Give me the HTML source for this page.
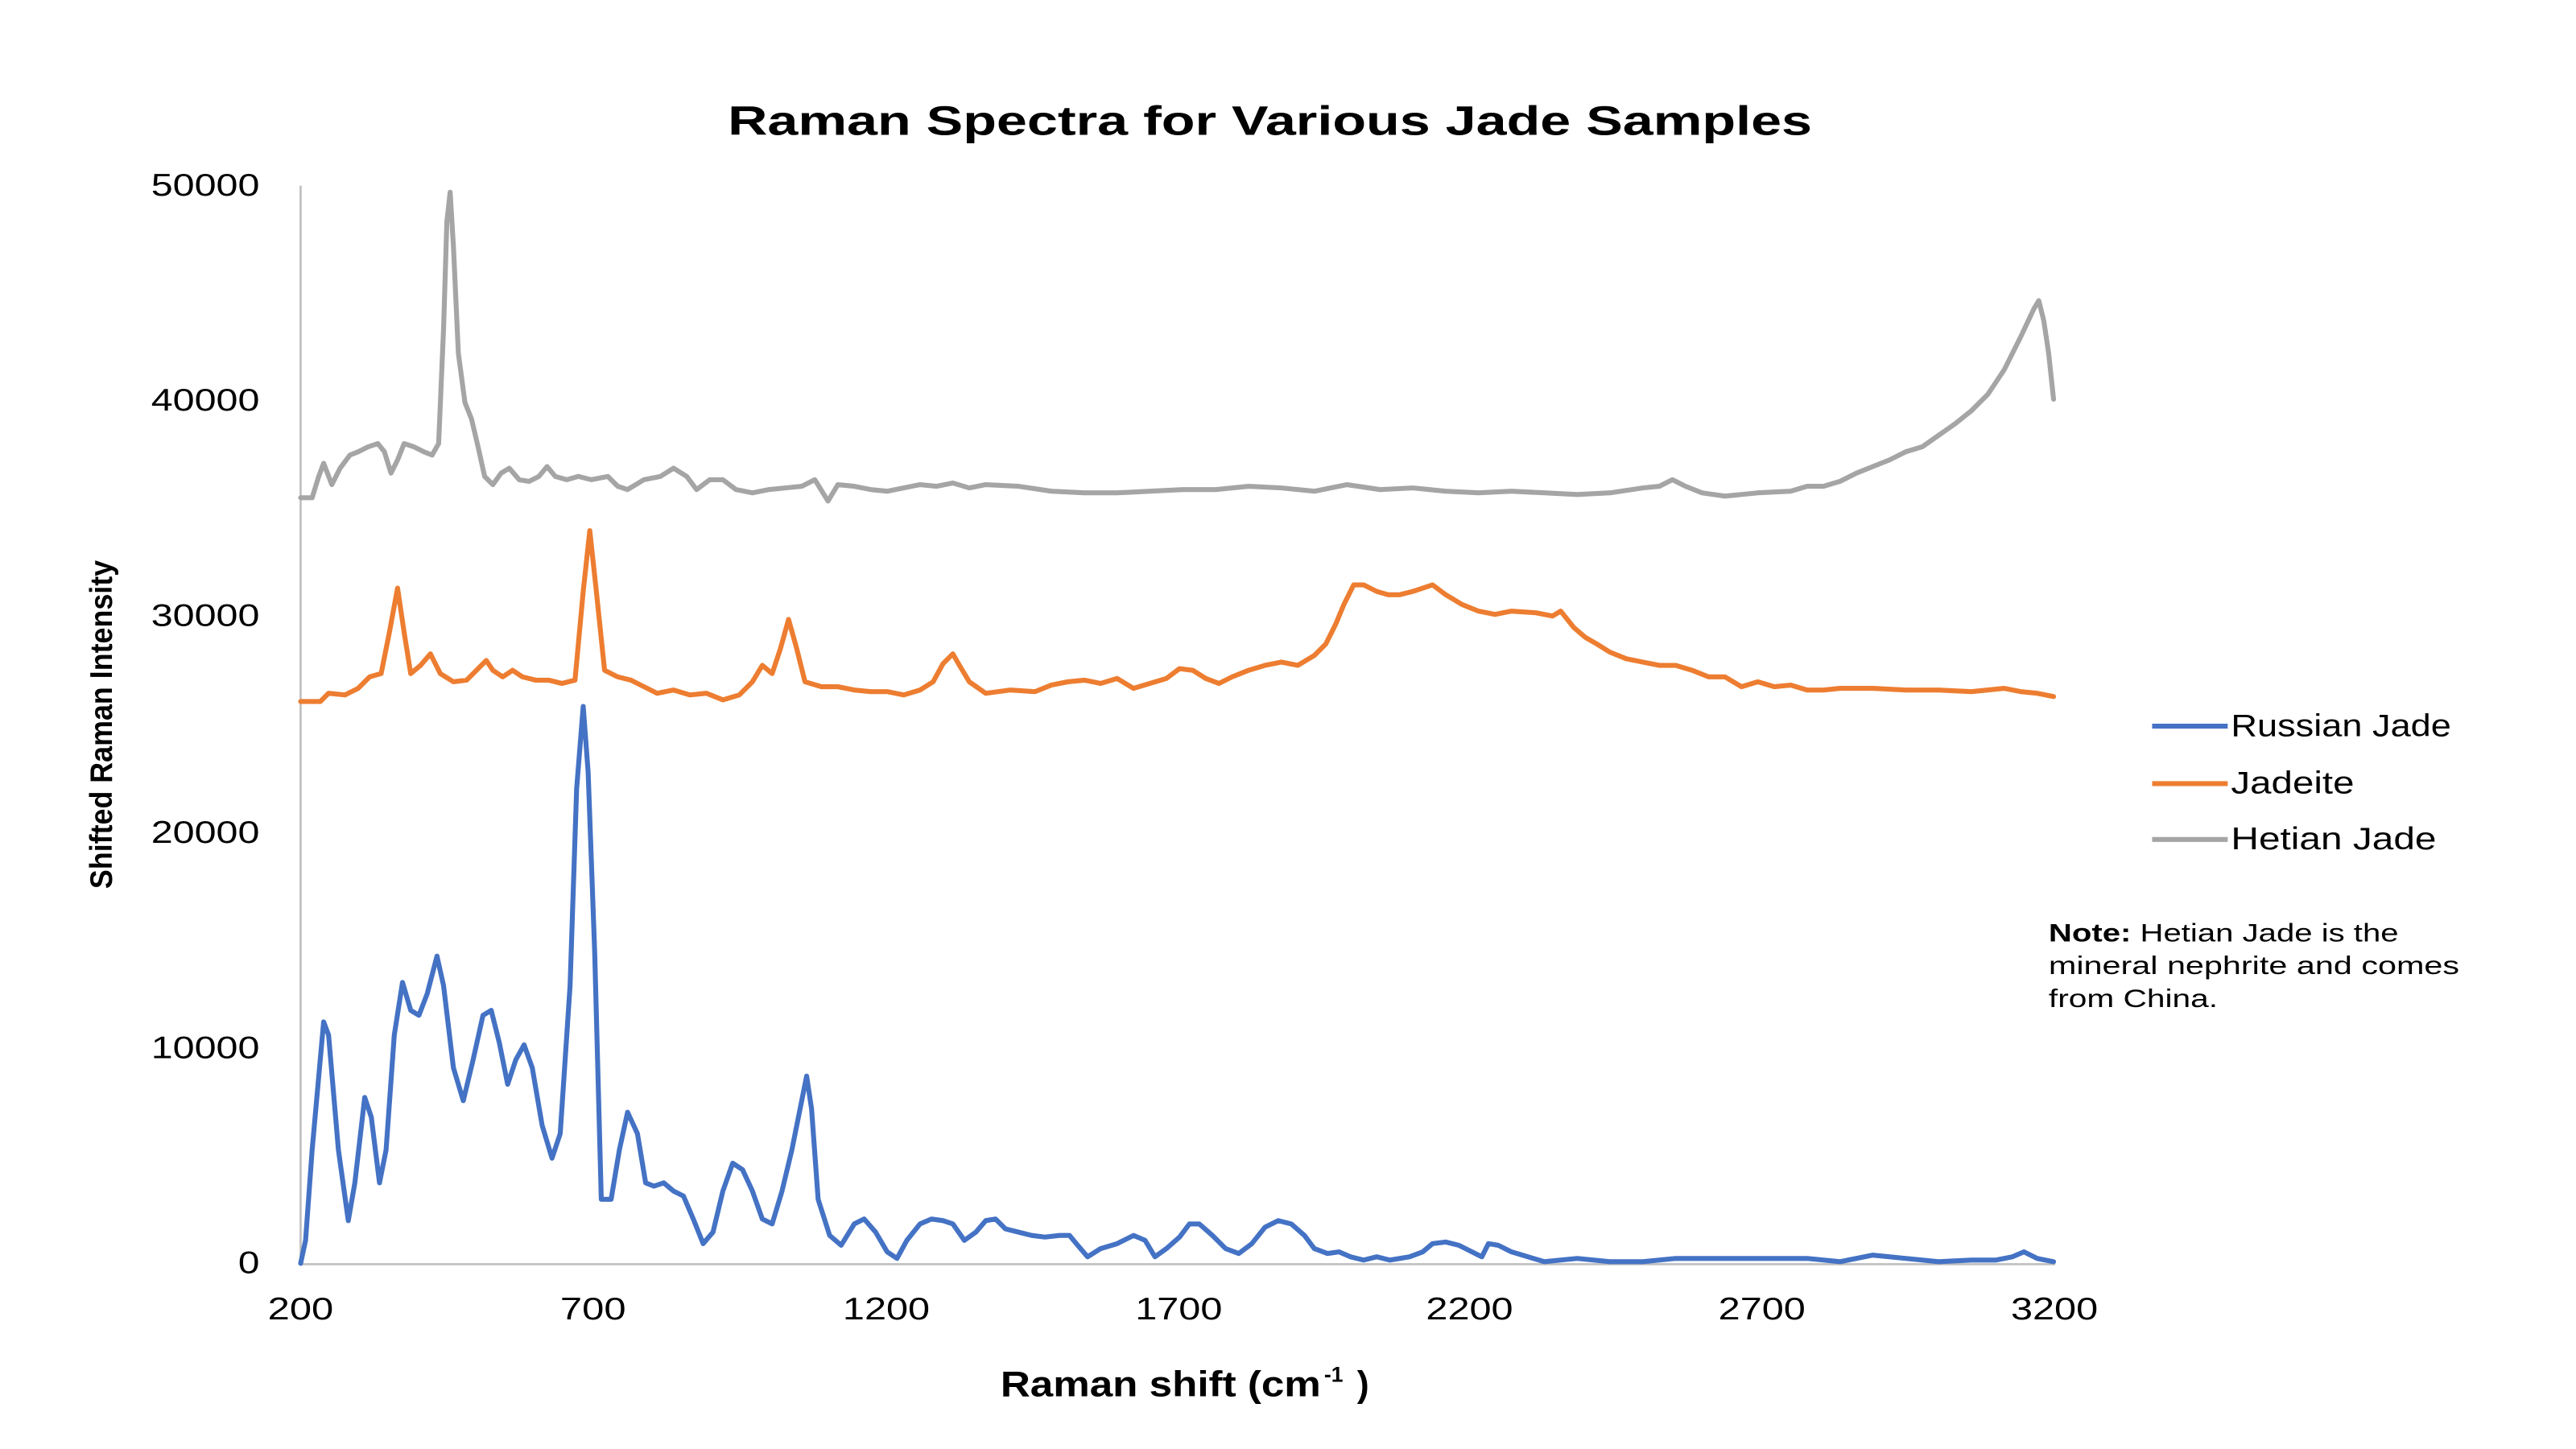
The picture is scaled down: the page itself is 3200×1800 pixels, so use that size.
<!DOCTYPE html>
<html><head><meta charset="utf-8"><style>
html,body{margin:0;padding:0;background:#fff;}
svg{display:block;}
text{font-family:"Liberation Sans",sans-serif;fill:#000;}
</style></head><body>
<svg width="3200" height="1800" viewBox="0 0 1568 882" preserveAspectRatio="none" xmlns="http://www.w3.org/2000/svg">
<rect width="1568" height="882" fill="#fff"/>
<text x="443" y="82" font-size="25" font-weight="bold" textLength="660" lengthAdjust="spacingAndGlyphs">Raman Spectra for Various Jade Samples</text>
<g font-size="19">
<text x="92" y="119" textLength="66" lengthAdjust="spacingAndGlyphs">50000</text>
<text x="92" y="250" textLength="66" lengthAdjust="spacingAndGlyphs">40000</text>
<text x="92" y="381" textLength="66" lengthAdjust="spacingAndGlyphs">30000</text>
<text x="92" y="513" textLength="66" lengthAdjust="spacingAndGlyphs">20000</text>
<text x="92" y="644" textLength="66" lengthAdjust="spacingAndGlyphs">10000</text>
<text x="145" y="775" textLength="13" lengthAdjust="spacingAndGlyphs">0</text>
</g>
<g font-size="19">
<text x="163" y="803" textLength="40" lengthAdjust="spacingAndGlyphs">200</text>
<text x="341" y="803" textLength="40" lengthAdjust="spacingAndGlyphs">700</text>
<text x="513" y="803" textLength="53" lengthAdjust="spacingAndGlyphs">1200</text>
<text x="691" y="803" textLength="53" lengthAdjust="spacingAndGlyphs">1700</text>
<text x="868" y="803" textLength="53" lengthAdjust="spacingAndGlyphs">2200</text>
<text x="1046" y="803" textLength="53" lengthAdjust="spacingAndGlyphs">2700</text>
<text x="1224" y="803" textLength="53" lengthAdjust="spacingAndGlyphs">3200</text>
</g>
<g font-weight="bold">
<text x="609" y="850" font-size="22" textLength="195" lengthAdjust="spacingAndGlyphs">Raman shift (cm</text>
<text x="806" y="841" font-size="13">-1</text>
<text x="826" y="850" font-size="22">)</text>
</g>
<text transform="translate(68,441) rotate(-90)" text-anchor="middle" font-size="19" font-weight="bold" textLength="200" lengthAdjust="spacingAndGlyphs">Shifted Raman Intensity</text>
<line x1="183" y1="113" x2="183" y2="769.5" stroke="#bfbfbf" stroke-width="1.3"/>
<line x1="183" y1="769.5" x2="1251" y2="769.5" stroke="#bfbfbf" stroke-width="1.3"/>
<g fill="none" stroke-width="3" stroke-linejoin="round" stroke-linecap="round">
<polyline stroke="#a5a5a5" points="183,303 190,303 194,290 197,282 202,295 207,285 213,277 218,275 224,272 230,270 234,275 238,288 242,280 246,270 252,272 258,275 263,277 267,270 270,200 272,135 274,117 276,150 279,215 283,245 287,255 291,272 295,290 300,295 305,288 310,285 316,292 322,293 328,290 333,284 338,290 345,292 352,290 360,292 370,290 376,296 382,298 392,292 402,290 410,285 418,290 424,298 432,292 440,292 448,298 458,300 468,298 478,297 488,296 496,292 504,305 510,295 520,296 530,298 540,299 550,297 560,295 570,296 580,294 590,297 600,295 620,296 640,299 660,300 680,300 700,299 720,298 740,298 760,296 780,297 800,299 820,295 840,298 860,297 880,299 900,300 920,299 940,300 960,301 980,300 1000,297 1010,296 1018,292 1026,296 1036,300 1050,302 1070,300 1090,299 1100,296 1110,296 1120,293 1130,288 1140,284 1150,280 1160,275 1170,272 1180,265 1190,258 1200,250 1210,240 1220,225 1230,205 1238,188 1241,183 1244,195 1247,215 1250,243"/>
<polyline stroke="#ed7d31" points="183,427 195,427 200,422 210,423 218,419 225,412 232,410 237,385 242,358 246,385 250,410 256,405 262,398 268,410 276,415 284,414 290,408 296,402 300,408 306,412 312,408 318,412 326,414 334,414 342,416 350,414 355,360 359,323 363,360 368,408 376,412 384,414 392,418 400,422 410,420 420,423 430,422 440,426 450,423 458,415 464,405 470,410 475,395 480,377 485,395 490,415 500,418 510,418 520,420 530,421 540,421 550,423 560,420 568,415 574,404 580,398 584,405 590,415 600,422 615,420 630,421 640,417 650,415 660,414 670,416 680,413 690,419 700,416 710,413 718,407 726,408 734,413 742,416 750,412 760,408 770,405 780,403 790,405 800,399 807,392 813,380 818,368 824,356 830,356 838,360 845,362 852,362 860,360 866,358 872,356 880,362 890,368 900,372 910,374 920,372 935,373 945,375 950,372 958,382 965,388 972,392 980,397 990,401 1000,403 1010,405 1020,405 1030,408 1040,412 1050,412 1060,418 1070,415 1080,418 1090,417 1100,420 1110,420 1120,419 1140,419 1160,420 1180,420 1200,421 1220,419 1230,421 1240,422 1250,424"/>
<polyline stroke="#4472c4" points="183,769 186,755 190,700 197,622 200,630 206,700 212,743 216,720 222,668 226,680 231,720 235,700 240,630 245,598 250,615 255,618 260,605 266,582 270,600 276,650 282,670 288,645 294,618 299,615 304,635 309,660 314,645 319,636 324,650 330,685 336,705 341,690 347,600 351,480 355,430 358,470 362,580 366,730 372,730 377,700 382,677 388,690 393,720 398,722 404,720 410,725 416,728 422,742 428,757 434,750 440,725 446,708 452,712 458,725 464,742 470,745 476,725 482,700 487,675 491,655 494,675 498,730 505,752 512,758 520,745 526,742 533,750 540,762 546,766 552,755 560,745 567,742 574,743 580,745 587,755 594,750 600,743 606,742 612,748 620,750 628,752 636,753 645,752 651,752 656,758 662,765 670,760 680,757 690,752 697,755 703,765 710,760 718,753 724,745 730,745 738,752 746,760 754,763 762,757 770,747 778,743 786,745 794,752 800,760 808,763 815,762 822,765 830,767 838,765 846,767 858,765 866,762 872,757 880,756 888,758 896,762 902,765 906,757 912,758 920,762 930,765 940,768 960,766 980,768 1000,768 1020,766 1040,766 1060,766 1080,766 1100,766 1120,768 1140,764 1160,766 1180,768 1200,767 1215,767 1225,765 1232,762 1240,766 1250,768"/>
</g>
<g stroke-width="3">
<line x1="1310" y1="442" x2="1356" y2="442" stroke="#4472c4"/>
<line x1="1310" y1="477" x2="1356" y2="477" stroke="#ed7d31"/>
<line x1="1310" y1="511" x2="1356" y2="511" stroke="#a5a5a5"/>
</g>
<g font-size="19">
<text x="1358" y="448" textLength="134" lengthAdjust="spacingAndGlyphs">Russian Jade</text>
<text x="1358" y="483" textLength="75" lengthAdjust="spacingAndGlyphs">Jadeite</text>
<text x="1358" y="517" textLength="125" lengthAdjust="spacingAndGlyphs">Hetian Jade</text>
</g>
<g font-size="15.5">
<text x="1247" y="573" textLength="213" lengthAdjust="spacingAndGlyphs"><tspan font-weight="bold">Note:</tspan> Hetian Jade is the</text>
<text x="1247" y="593" textLength="250" lengthAdjust="spacingAndGlyphs">mineral nephrite and comes</text>
<text x="1247" y="613" textLength="103" lengthAdjust="spacingAndGlyphs">from China.</text>
</g>
</svg>
</body></html>
